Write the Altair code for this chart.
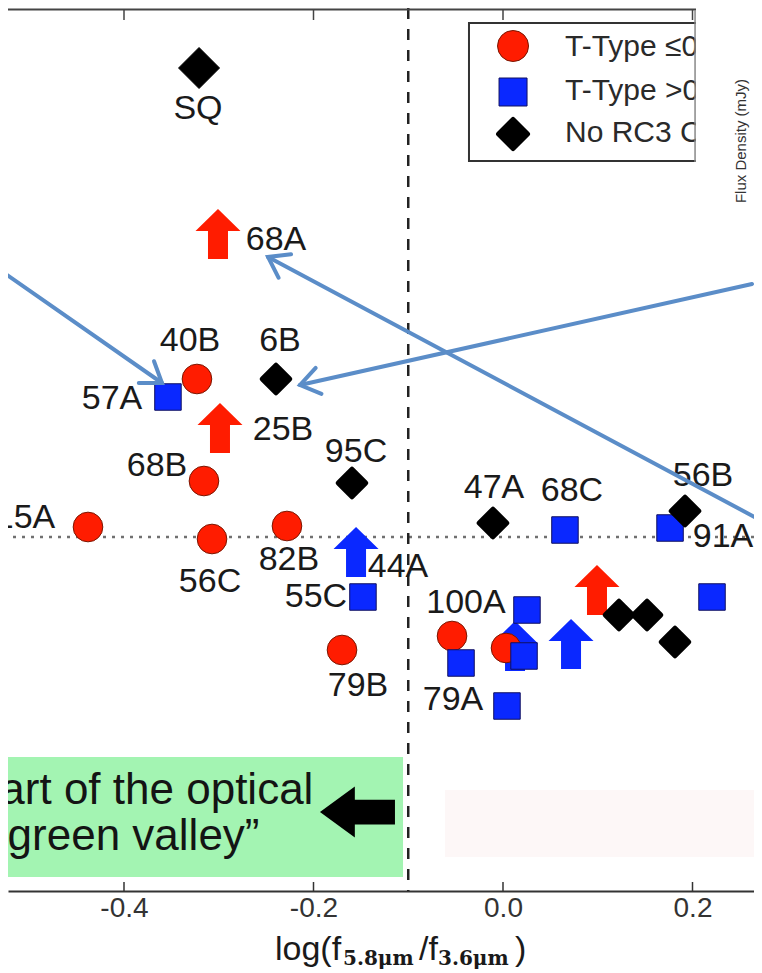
import math
import altair as alt
import pandas as pd

# ---------------- data ----------------
# x: log(f5.8um / f3.6um); y: vertical colour axis (not shown in the crop, arbitrary units)
CIRC_X = [-0.3230, -0.3156, -0.4380, -0.3071, -0.2280, -0.1699, -0.0538, 0.0032]
CIRC_Y = [0.395, 0.140, 0.025, -0.005, 0.0275, -0.2825, -0.2475, -0.2775]

SQR_X = [-0.3536, -0.1478, 0.0654, 0.1763, 0.2206, 0.0253, -0.0443, 0.0222, 0.0042]
SQR_Y = [0.350, -0.150, 0.0175, 0.0225, -0.150, -0.1825, -0.315, -0.2975, -0.4225]

RED_LIM_X = [-0.3008, -0.2987, 0.0992]
RED_LIM_Y = [0.7575, 0.2725, -0.1325]

BLUE_LIM_X = [-0.1551, 0.0718, 0.0127]
BLUE_LIM_Y = [-0.0375, -0.2675, -0.2725]

DIAM_X = [-0.2396, -0.1594, -0.0106, 0.1921, 0.1224, 0.1520, 0.1815]
DIAM_Y = [0.395, 0.135, 0.035, 0.065, -0.195, -0.195, -0.2625]

SQ_X = [-0.3208]
SQ_Y = [1.1725]

LABEL_TEXT = ["SQ", "68A", "40B", "6B", "57A", "25B", "95C", "68B", "15A", "56C",
              "82B", "44A", "55C", "79B", "47A", "68C", "56B", "91A", "100A", "79A"]
LABEL_X = [-0.3219, -0.2396, -0.3303, -0.2354, -0.4127, -0.2322, -0.1551, -0.3652, -0.5045, -0.3092,
           -0.2259, -0.1108, -0.1974, -0.1530, -0.0095, 0.0728, 0.2111, 0.2322, -0.0391, -0.0528]
LABEL_Y = [1.070, 0.7425, 0.490, 0.490, 0.345, 0.2675, 0.2125, 0.1775, 0.0475, -0.1125,
           -0.0575, -0.075, -0.150, -0.3725, 0.1225, 0.115, 0.1525, 0.0, -0.165, -0.4075]

X_TICKS = [-0.4, -0.2, 0.0, 0.2]
DIVIDE_X = [-0.1]
DOTTED_Y = [0.0]

LEGEND_TEXT = ["T-Type \u22640", "T-Type >0", "No RC3 Classification"]

# slide annotations (start -> tip)
ANN_X1 = [-0.5309, 0.2628, 0.2734]
ANN_Y1 = [0.6675, 0.6325, 0.0400]
ANN_X2 = [-0.3599, -0.2142, -0.2480]
ANN_Y2 = [0.3850, 0.3800, 0.7000]

GREEN_LINES = ["Part of the optical", "\u201cgreen valley\u201d"]

# ---------------- layout ----------------
XMIN, XMAX = -0.522427, 0.264908
YMIN, YMAX = -0.885, 1.3225
W, H = 746, 883

xs = alt.Scale(domain=[XMIN, XMAX], nice=False, zero=False)
ys = alt.Scale(domain=[YMIN, YMAX], nice=False, zero=False)

X_AXIS = alt.Axis(values=X_TICKS, grid=False, ticks=False, domain=True,
                  domainColor="#333333", domainWidth=2,
                  labelFont="Liberation Sans", labelFontSize=28, labelColor="#333333",
                  labelPadding=3,
                  labelExpr="(datum.value < 0 ? '-' : '') + format(abs(datum.value), '.1f')",
                  title=None)

def X(f="x"):
    return alt.X(f"{f}:Q", scale=xs, axis=X_AXIS)

def Y(f="y"):
    return alt.Y(f"{f}:Q", scale=ys, axis=None)

RED = "#ff1c00"
BLUE = "#0a28ff"
ANN = "#5b8dc8"
FONT = "Liberation Sans"

UP_ARROW = "M0,-1L0.9,-0.12L0.4,-0.12L0.4,1L-0.4,1L-0.4,-0.12L-0.9,-0.12Z"
LEFT_ARROW = "M-1,0L-0.07,-0.68L-0.07,-0.33L1,-0.33L1,0.33L-0.07,0.33L-0.07,0.68Z"
CHEVRON = "M-1,-0.7L0,0L-1,0.7"

def pts(xv, yv):
    return pd.DataFrame({"x": xv, "y": yv})

# background boxes
green_box = alt.Chart(pd.DataFrame({"x": [XMIN], "x2": [-0.1055], "y": [-0.55], "y2": [-0.85]})).mark_rect(
    color="#a3f4b2", clip=True).encode(x=X("x"), x2="x2:Q", y=Y("y"), y2="y2:Q")
pink_box = alt.Chart(pd.DataFrame({"x": [-0.0612], "x2": [XMAX], "y": [-0.6325], "y2": [-0.80]})).mark_rect(
    color="#fdf7f7", clip=True).encode(x=X("x"), x2="x2:Q", y=Y("y"), y2="y2:Q")
green_text = alt.Chart(pd.DataFrame({"t": GREEN_LINES, "x": [-0.5615, -0.5383], "y": [-0.6675, -0.7825]})).mark_text(
    font=FONT, fontSize=44, color="#141414", align="left", baseline="alphabetic", clip=True
).encode(x=X(), y=Y(), text="t:N")
black_arrow = alt.Chart(pts([-0.1536], [-0.6875])).mark_point(
    shape=LEFT_ARROW, filled=True, size=5625, color="black", opacity=1, clip=True
).encode(x=X(), y=Y())

# reference lines
dotted = alt.Chart(pd.DataFrame({"y": DOTTED_Y})).mark_rule(
    color="#707070", strokeWidth=2.5, strokeDash=[3, 6], clip=True).encode(y=Y())
dashed = alt.Chart(pd.DataFrame({"x": DIVIDE_X})).mark_rule(
    color="#222222", strokeWidth=2.5, strokeDash=[11, 10], clip=True).encode(x=X())

# data marks
red_lim = alt.Chart(pts(RED_LIM_X, RED_LIM_Y)).mark_point(
    shape=UP_ARROW, filled=True, size=2500, color=RED, opacity=1, clip=True).encode(x=X(), y=Y())
blue_lim = alt.Chart(pts(BLUE_LIM_X, BLUE_LIM_Y)).mark_point(
    shape=UP_ARROW, filled=True, size=2500, color=BLUE, opacity=1, clip=True).encode(x=X(), y=Y())
circles = alt.Chart(pts(CIRC_X, CIRC_Y)).mark_point(
    shape="circle", filled=True, size=880, fill=RED, stroke="#7a1500", strokeWidth=1, opacity=1, clip=True
).encode(x=X(), y=Y())
squares = alt.Chart(pts(SQR_X, SQR_Y)).mark_point(
    shape="square", filled=True, size=702, fill=BLUE, stroke="#101060", strokeWidth=1, opacity=1, clip=True
).encode(x=X(), y=Y())
diamonds = alt.Chart(pts(DIAM_X, DIAM_Y)).mark_point(
    shape="diamond", filled=True, size=760, fill="black", stroke="black", strokeWidth=5,
    strokeJoin="round", opacity=1, clip=True).encode(x=X(), y=Y())
sq = alt.Chart(pts(SQ_X, SQ_Y)).mark_point(
    shape="diamond", filled=True, size=1681, fill="black", stroke="black", strokeWidth=1,
    opacity=1, clip=True).encode(x=X(), y=Y())

labels = alt.Chart(pd.DataFrame({"t": LABEL_TEXT, "x": LABEL_X, "y": LABEL_Y})).mark_text(
    font=FONT, fontSize=34, color="#1a1a1a", align="center", baseline="middle", clip=True
).encode(x=X(), y=Y(), text="t:N")

# frame: top spine and inward ticks
top_spine = alt.Chart(pd.DataFrame({"y": [1.31875]})).mark_rule(
    color="#444444", strokeWidth=2, clip=True).encode(y=Y())
top_ticks = alt.Chart(pd.DataFrame({"x": X_TICKS, "y": [1.31875] * 4, "y2": [1.2925] * 4})).mark_rule(
    color="#444444", strokeWidth=1.5, clip=True).encode(x=X(), y=Y(), y2="y2:Q")
bot_ticks = alt.Chart(pd.DataFrame({"x": X_TICKS, "y": [YMIN] * 4, "y2": [-0.8625] * 4})).mark_rule(
    color="#333333", strokeWidth=1.5, clip=True).encode(x=X(), y=Y(), y2="y2:Q")

# legend
leg_box = alt.Chart(pd.DataFrame({"x": [-0.0359], "x2": [XMAX + 0.05], "y": [1.285], "y2": [0.94]})).mark_rect(
    fill="white", stroke="#333333", strokeWidth=2, clip=True).encode(x=X("x"), x2="x2:Q", y=Y("y"), y2="y2:Q")
leg_c = alt.Chart(pts([0.0106], [1.2275])).mark_point(
    shape="circle", filled=True, size=961, fill=RED, stroke="#7a1500", strokeWidth=1, opacity=1, clip=True
).encode(x=X(), y=Y())
leg_s = alt.Chart(pts([0.0106], [1.1125])).mark_point(
    shape="square", filled=True, size=784, fill=BLUE, stroke="#101060", strokeWidth=1, opacity=1, clip=True
).encode(x=X(), y=Y())
leg_d = alt.Chart(pts([0.0106], [1.0075])).mark_point(
    shape="diamond", filled=True, size=840, fill="black", stroke="black", strokeWidth=5,
    strokeJoin="round", opacity=1, clip=True).encode(x=X(), y=Y())
leg_t = alt.Chart(pd.DataFrame({"t": LEGEND_TEXT, "x": [0.0654] * 3, "y": [1.2025, 1.0925, 0.9875]})).mark_text(
    font=FONT, fontSize=30, color="#2a2a2a", align="left", baseline="alphabetic", clip=True
).encode(x=X(), y=Y(), text="t:N")

# slide overlay covering the top right corner
overlay = alt.Chart(pd.DataFrame({"x": [0.2037], "x2": [XMAX], "y": [0.5925], "y2": [YMAX]})).mark_rect(
    color="white", clip=True).encode(x=X("x"), x2="x2:Q", y=Y("y"), y2="y2:Q")
overlay_edge = alt.Chart(pd.DataFrame({"x": [0.2027], "y": [1.3175], "y2": [0.9375]})).mark_rule(
    color="#888888", strokeWidth=1.5, clip=True).encode(x=X(), y=Y(), y2="y2:Q")
flux = alt.Chart(pd.DataFrame({"t": ["Flux Density (mJy)"], "x": [0.2512], "y": [0.99]})).mark_text(
    font=FONT, fontSize=15, color="#333333", angle=270, align="center", baseline="middle", clip=True
).encode(x=X(), y=Y(), text="t:N")

# annotation arrows
sx = W / (XMAX - XMIN)
sy = H / (YMAX - YMIN)
angles = [math.degrees(math.atan2(-(y2 - y1) * sy, (x2 - x1) * sx)) % 360
          for x1, y1, x2, y2 in zip(ANN_X1, ANN_Y1, ANN_X2, ANN_Y2)]
ann_df = pd.DataFrame({"x": ANN_X1, "y": ANN_Y1, "x2": ANN_X2, "y2": ANN_Y2, "a": angles})
ann_lines = alt.Chart(ann_df).mark_rule(
    color=ANN, strokeWidth=4, strokeCap="round", clip=True).encode(x=X(), y=Y(), x2="x2:Q", y2="y2:Q")
ann_heads = alt.Chart(ann_df).mark_point(
    shape=CHEVRON, filled=False, size=1444, stroke=ANN, strokeWidth=4, strokeCap="round",
    opacity=1, clip=True
).encode(x=X("x2"), y=Y("y2"), angle=alt.Angle("a:Q", scale=None))

# x-axis title built from pieces (normal text + bold serif subscripts)
def piece(t, px, py, font, size, weight="normal"):
    return alt.Chart(pd.DataFrame({"t": [t]})).mark_text(
        font=font, fontSize=size, fontWeight=weight, color="#1a1a1a",
        align="left", baseline="alphabetic"
    ).encode(x=alt.value(px), y=alt.value(py), text="t:N")

title = (piece("log(f", 267, 952, FONT, 34)
         + piece("5.8\u03bcm", 335, 957, "DejaVu Serif", 20, "bold")
         + piece("/f", 411, 952, FONT, 34)
         + piece("3.6\u03bcm", 430, 957, "DejaVu Serif", 20, "bold")
         + piece(")", 507, 952, FONT, 34))

chart = alt.layer(
    green_box, pink_box, green_text, black_arrow,
    dotted, dashed,
    red_lim, blue_lim, circles, squares, diamonds, sq, labels,
    top_spine, top_ticks, bot_ticks,
    leg_box, leg_c, leg_s, leg_d, leg_t,
    overlay, overlay_edge, flux,
    ann_lines, ann_heads,
    title,
).properties(
    width=W, height=H, padding=0, background="white"
).configure_view(strokeWidth=0)

chart.save("out.html", embed_options={"renderer": "svg", "actions": False})
